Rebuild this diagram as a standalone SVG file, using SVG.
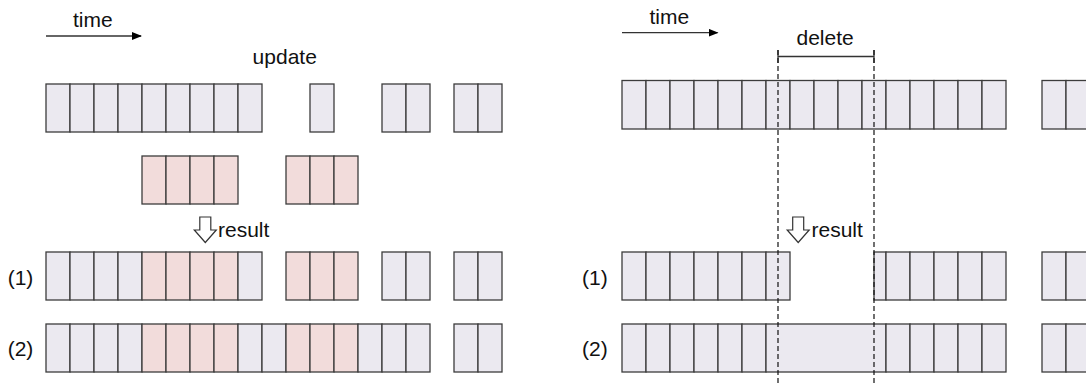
<svg xmlns="http://www.w3.org/2000/svg" width="1086" height="383" viewBox="0 0 1086 383">
<style>
.g{fill:#ebe9f0;stroke:#3c3c3c;stroke-width:1.3}
.p{fill:#f2dcdb;stroke:#3c3c3c;stroke-width:1.3}
.t{font-family:"Liberation Sans",Arial,sans-serif;font-size:21px;fill:#111}
.ln{stroke:#333;stroke-width:1.3;fill:none}
.dash{stroke:#111;stroke-width:1.2;stroke-dasharray:5 3;fill:none}
.hollow{fill:#fff;stroke:#333;stroke-width:1.2}
</style>
<defs>
<marker id="ah" markerWidth="10" markerHeight="8" refX="9" refY="4" orient="auto" markerUnits="userSpaceOnUse">
<path d="M0,0 L10,4 L0,8 Z" fill="#000"/>
</marker>
</defs>
<rect width="1086" height="383" fill="#fff"/>

<g id="connectors">
<line class="ln" x1="46" y1="36" x2="141" y2="36" marker-end="url(#ah)"/>
<line class="ln" x1="622" y1="32.7" x2="717.5" y2="32.7" marker-end="url(#ah)"/>
<polygon class="hollow" points="199.8,217 210.8,217 210.8,230 216.3,230 205.3,242.5 194.3,230 199.8,230"/>
<polygon class="hollow" points="792.7,217 803.7,217 803.7,230 809.2,230 798.2,242.5 787.2,230 792.7,230"/>
<line class="ln" x1="778" y1="56.5" x2="874" y2="56.5"/>
<line class="ln" x1="778" y1="50" x2="778" y2="63"/>
<line class="ln" x1="874" y1="50" x2="874" y2="63"/>
</g>

<g id="labels">
<text class="t" x="73" y="27">time</text>
<text class="t" x="252.6" y="63.5">update</text>
<text class="t" x="218" y="236.5">result</text>
<text class="t" x="7.7" y="284.5">(1)</text>
<text class="t" x="7.7" y="356">(2)</text>
<text class="t" x="649.5" y="23.5">time</text>
<text class="t" x="796.5" y="45">delete</text>
<text class="t" x="811.5" y="236.5">result</text>
<text class="t" x="582" y="284.5">(1)</text>
<text class="t" x="582" y="356">(2)</text>
</g>

<g id="left-original">
<rect class="g" x="46" y="84" width="24" height="48"/>
<rect class="g" x="70" y="84" width="24" height="48"/>
<rect class="g" x="94" y="84" width="24" height="48"/>
<rect class="g" x="118" y="84" width="24" height="48"/>
<rect class="g" x="142" y="84" width="24" height="48"/>
<rect class="g" x="166" y="84" width="24" height="48"/>
<rect class="g" x="190" y="84" width="24" height="48"/>
<rect class="g" x="214" y="84" width="24" height="48"/>
<rect class="g" x="238" y="84" width="24" height="48"/>
<rect class="g" x="310" y="84" width="24" height="48"/>
<rect class="g" x="382" y="84" width="24" height="48"/>
<rect class="g" x="406" y="84" width="24" height="48"/>
<rect class="g" x="454" y="84" width="24" height="48"/>
<rect class="g" x="478" y="84" width="24" height="48"/>
</g>

<g id="left-update">
<rect class="p" x="142" y="156" width="24" height="48"/>
<rect class="p" x="166" y="156" width="24" height="48"/>
<rect class="p" x="190" y="156" width="24" height="48"/>
<rect class="p" x="214" y="156" width="24" height="48"/>
<rect class="p" x="286" y="156" width="24" height="48"/>
<rect class="p" x="310" y="156" width="24" height="48"/>
<rect class="p" x="334" y="156" width="24" height="48"/>
</g>

<g id="left-result-1">
<rect class="g" x="46" y="252" width="24" height="48"/>
<rect class="g" x="70" y="252" width="24" height="48"/>
<rect class="g" x="94" y="252" width="24" height="48"/>
<rect class="g" x="118" y="252" width="24" height="48"/>
<rect class="p" x="142" y="252" width="24" height="48"/>
<rect class="p" x="166" y="252" width="24" height="48"/>
<rect class="p" x="190" y="252" width="24" height="48"/>
<rect class="p" x="214" y="252" width="24" height="48"/>
<rect class="g" x="238" y="252" width="24" height="48"/>
<rect class="p" x="286" y="252" width="24" height="48"/>
<rect class="p" x="310" y="252" width="24" height="48"/>
<rect class="p" x="334" y="252" width="24" height="48"/>
<rect class="g" x="382" y="252" width="24" height="48"/>
<rect class="g" x="406" y="252" width="24" height="48"/>
<rect class="g" x="454" y="252" width="24" height="48"/>
<rect class="g" x="478" y="252" width="24" height="48"/>
</g>

<g id="left-result-2">
<rect class="g" x="46" y="324" width="24" height="48"/>
<rect class="g" x="70" y="324" width="24" height="48"/>
<rect class="g" x="94" y="324" width="24" height="48"/>
<rect class="g" x="118" y="324" width="24" height="48"/>
<rect class="p" x="142" y="324" width="24" height="48"/>
<rect class="p" x="166" y="324" width="24" height="48"/>
<rect class="p" x="190" y="324" width="24" height="48"/>
<rect class="p" x="214" y="324" width="24" height="48"/>
<rect class="g" x="238" y="324" width="24" height="48"/>
<rect class="g" x="262" y="324" width="24" height="48"/>
<rect class="p" x="286" y="324" width="24" height="48"/>
<rect class="p" x="310" y="324" width="24" height="48"/>
<rect class="p" x="334" y="324" width="24" height="48"/>
<rect class="g" x="358" y="324" width="24" height="48"/>
<rect class="g" x="382" y="324" width="24" height="48"/>
<rect class="g" x="406" y="324" width="24" height="48"/>
<rect class="g" x="454" y="324" width="24" height="48"/>
<rect class="g" x="478" y="324" width="24" height="48"/>
</g>

<g id="right-original">
<rect class="g" x="622" y="80.5" width="24" height="48.5"/>
<rect class="g" x="646" y="80.5" width="24" height="48.5"/>
<rect class="g" x="670" y="80.5" width="24" height="48.5"/>
<rect class="g" x="694" y="80.5" width="24" height="48.5"/>
<rect class="g" x="718" y="80.5" width="24" height="48.5"/>
<rect class="g" x="742" y="80.5" width="24" height="48.5"/>
<rect class="g" x="766" y="80.5" width="24" height="48.5"/>
<rect class="g" x="790" y="80.5" width="24" height="48.5"/>
<rect class="g" x="814" y="80.5" width="24" height="48.5"/>
<rect class="g" x="838" y="80.5" width="24" height="48.5"/>
<rect class="g" x="862" y="80.5" width="24" height="48.5"/>
<rect class="g" x="886" y="80.5" width="24" height="48.5"/>
<rect class="g" x="910" y="80.5" width="24" height="48.5"/>
<rect class="g" x="934" y="80.5" width="24" height="48.5"/>
<rect class="g" x="958" y="80.5" width="24" height="48.5"/>
<rect class="g" x="982" y="80.5" width="24" height="48.5"/>
<rect class="g" x="1042" y="80.5" width="24" height="48.5"/>
<rect class="g" x="1066" y="80.5" width="24" height="48.5"/>
</g>

<g id="right-result-1">
<rect class="g" x="622" y="252" width="24" height="48"/>
<rect class="g" x="646" y="252" width="24" height="48"/>
<rect class="g" x="670" y="252" width="24" height="48"/>
<rect class="g" x="694" y="252" width="24" height="48"/>
<rect class="g" x="718" y="252" width="24" height="48"/>
<rect class="g" x="742" y="252" width="24" height="48"/>
<rect class="g" x="766" y="252" width="24" height="48"/>
<rect class="g" x="874" y="252" width="12" height="48"/>
<rect class="g" x="886" y="252" width="24" height="48"/>
<rect class="g" x="910" y="252" width="24" height="48"/>
<rect class="g" x="934" y="252" width="24" height="48"/>
<rect class="g" x="958" y="252" width="24" height="48"/>
<rect class="g" x="982" y="252" width="24" height="48"/>
<rect class="g" x="1042" y="252" width="24" height="48"/>
<rect class="g" x="1066" y="252" width="24" height="48"/>
</g>

<g id="right-result-2">
<rect class="g" x="622" y="324" width="24" height="48"/>
<rect class="g" x="646" y="324" width="24" height="48"/>
<rect class="g" x="670" y="324" width="24" height="48"/>
<rect class="g" x="694" y="324" width="24" height="48"/>
<rect class="g" x="718" y="324" width="24" height="48"/>
<rect class="g" x="742" y="324" width="24" height="48"/>
<rect class="g" x="766" y="324" width="120" height="48"/>
<rect class="g" x="886" y="324" width="24" height="48"/>
<rect class="g" x="910" y="324" width="24" height="48"/>
<rect class="g" x="934" y="324" width="24" height="48"/>
<rect class="g" x="958" y="324" width="24" height="48"/>
<rect class="g" x="982" y="324" width="24" height="48"/>
<rect class="g" x="1042" y="324" width="24" height="48"/>
<rect class="g" x="1066" y="324" width="24" height="48"/>
</g>

<g id="delete-bounds">
<line class="dash" x1="778" y1="50" x2="778" y2="383"/>
<line class="dash" x1="874" y1="50" x2="874" y2="383"/>
</g>
</svg>
